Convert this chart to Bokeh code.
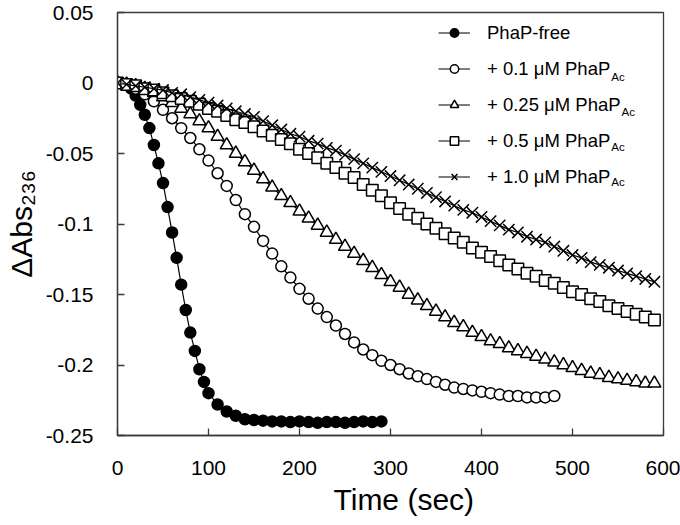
from bokeh.plotting import figure
from bokeh.models import Range1d, FixedTicker, Legend, LegendItem, Label, Title
from bokeh.embed import file_html
from bokeh.resources import INLINE

# ---------------- data ----------------
t_free = [0, 5, 10, 15, 20, 25, 30, 35, 40, 45, 50, 55, 60, 65, 70, 75, 80, 85, 90, 95, 100,
          110, 120, 130, 140, 150, 160, 170, 180, 190, 200, 210, 220, 230, 240, 250, 260, 270, 280, 290]
v_free = [0, -0.0005, -0.001, -0.004, -0.009, -0.0155, -0.0225, -0.032, -0.044, -0.057, -0.071,
          -0.088, -0.106, -0.124, -0.143, -0.161, -0.177, -0.190, -0.203, -0.212, -0.220,
          -0.228, -0.233, -0.236, -0.2385, -0.239, -0.2395, -0.240, -0.240, -0.2405, -0.240,
          -0.2405, -0.241, -0.2405, -0.2405, -0.241, -0.2405, -0.240, -0.2405, -0.240]

t_01 = list(range(0, 481, 10))
v_01 = [0, -0.001, -0.004, -0.008, -0.013, -0.019, -0.025, -0.032, -0.039, -0.047,
        -0.055, -0.064, -0.073, -0.083, -0.093, -0.102, -0.112, -0.121, -0.130, -0.138,
        -0.146, -0.153, -0.160, -0.166, -0.172, -0.178, -0.184, -0.189, -0.193, -0.197,
        -0.200, -0.203, -0.206, -0.208, -0.210, -0.212, -0.214, -0.216, -0.217, -0.218,
        -0.219, -0.220, -0.221, -0.222, -0.222, -0.223, -0.223, -0.223, -0.222]

t_long = list(range(0, 591, 10))
v_025 = [0, -0.001, -0.002, -0.004, -0.007, -0.010, -0.014, -0.018, -0.022, -0.027,
         -0.032, -0.038, -0.044, -0.050, -0.056, -0.062, -0.068, -0.074, -0.080, -0.085,
         -0.091, -0.096, -0.101, -0.106, -0.111, -0.116, -0.121, -0.126, -0.131, -0.136,
         -0.141, -0.145, -0.150, -0.154, -0.158, -0.162, -0.166, -0.170, -0.173, -0.177,
         -0.180, -0.183, -0.185, -0.188, -0.190, -0.192, -0.194, -0.196, -0.198, -0.200,
         -0.202, -0.204, -0.206, -0.207, -0.209, -0.210, -0.211, -0.212, -0.213, -0.213]
v_05 = [0, -0.001, -0.002, -0.004, -0.005, -0.007, -0.009, -0.011, -0.013, -0.015,
        -0.018, -0.020, -0.023, -0.026, -0.028, -0.031, -0.034, -0.037, -0.040, -0.043,
        -0.047, -0.050, -0.053, -0.057, -0.060, -0.064, -0.067, -0.072, -0.076, -0.080,
        -0.085, -0.089, -0.093, -0.096, -0.100, -0.103, -0.107, -0.110, -0.113, -0.117,
        -0.120, -0.123, -0.126, -0.129, -0.132, -0.135, -0.137, -0.140, -0.142, -0.145,
        -0.148, -0.150, -0.153, -0.155, -0.158, -0.160, -0.162, -0.164, -0.166, -0.168]
v_10 = [0, -0.001, -0.002, -0.003, -0.004, -0.005, -0.007, -0.008, -0.010, -0.012,
        -0.014, -0.016, -0.018, -0.020, -0.022, -0.024, -0.027, -0.030, -0.033, -0.036,
        -0.038, -0.041, -0.043, -0.046, -0.048, -0.051, -0.054, -0.057, -0.060, -0.063,
        -0.066, -0.069, -0.072, -0.075, -0.078, -0.081, -0.084, -0.087, -0.090, -0.092,
        -0.095, -0.098, -0.101, -0.104, -0.106, -0.109, -0.111, -0.113, -0.116, -0.119,
        -0.122, -0.124, -0.127, -0.129, -0.131, -0.133, -0.135, -0.137, -0.139, -0.141]

legend_labels = ["PhaP-free", "+ 0.1 \u03bcM PhaP", "+ 0.25 \u03bcM PhaP",
                 "+ 0.5 \u03bcM PhaP", "+ 1.0 \u03bcM PhaP"]
legend_subs = ["", "Ac", "Ac", "Ac", "Ac"]

x_ticks = [0, 100, 200, 300, 400, 500, 600]
y_ticks = [-0.25, -0.2, -0.15, -0.1, -0.05, 0, 0.05]
y_tick_labels = ["-0.25", "-0.2", "-0.15", "-0.1", "-0.05", "0", "0.05"]
x_title = "Time (sec)"
y_title = "\u0394Abs\u2082\u2083\u2086"

# ---------------- figure ----------------
W, H = 680, 525
BL, BR, BT, BB = 117, 17, 12, 90
FW, FH = W - BL - BR, H - BT - BB
AXC = "#3a3a3a"
FONT = "Liberation Sans"

p = figure(width=W, height=H, output_backend="svg", toolbar_location=None,
           x_range=Range1d(0, 600), y_range=Range1d(-0.25, 0.05),
           min_border_left=BL, min_border_right=BR, min_border_top=BT, min_border_bottom=BB)
p.xgrid.visible = False
p.ygrid.visible = False
p.outline_line_color = AXC
p.outline_line_width = 1.3
p.background_fill_color = "white"
p.border_fill_color = "white"

for ax in (p.xaxis[0], p.yaxis[0]):
    ax.axis_line_color = AXC
    ax.axis_line_width = 1.3
    ax.major_tick_line_color = AXC
    ax.major_tick_line_width = 1.3
    ax.major_tick_in = 7
    ax.major_tick_out = 0
    ax.minor_tick_line_color = None
    ax.major_label_text_font = FONT
    ax.major_label_text_font_size = "21px"
    ax.major_label_text_color = "black"

p.xaxis[0].ticker = FixedTicker(ticks=x_ticks)
p.xaxis[0].major_label_standoff = 25
p.yaxis[0].ticker = FixedTicker(ticks=y_ticks)
p.yaxis[0].major_label_overrides = dict(zip(y_ticks, y_tick_labels))
p.yaxis[0].major_label_standoff = 24
p.yaxis[0].axis_label = y_title
p.yaxis[0].axis_label_text_font = FONT
p.yaxis[0].axis_label_text_font_size = "30px"
p.yaxis[0].axis_label_text_font_style = "normal"
p.yaxis[0].axis_label_text_color = "black"
p.yaxis[0].axis_label_standoff = 5

# x title as a Title in the below panel so it can sit right of centre like the reference
p.add_layout(Title(text=x_title, align="left", offset=216, standoff=6,
                   text_font=FONT, text_font_size="30px", text_font_style="normal",
                   text_color="black"), "below")

# ---------------- series ----------------
LW = 1.2
renderers = []
specs = [
    (t_free, v_free, "circle", 11, "black"),
    (t_01, v_01, "circle", 11, "white"),
    (t_long, v_025, "triangle", 13, "white"),
    (t_long, v_05, "square", 11.5, "white"),
    (t_long, v_10, "x", 16, "white"),
]
for tx, vy, mk, sz, fc in specs:
    ln = p.line(tx, vy, line_color="black", line_width=LW)
    sc = p.scatter(tx, vy, marker=mk, size=sz, fill_color=fc, line_color="black", line_width=1.5)
    renderers.append([ln, sc])

# ---------------- legend ----------------
LEG_X = 321            # from frame left
LEG_TOP_CANVAS = 26.5  # legend top, canvas px
ITEM_H, SPACING = 21, 14
GLYPH_W, STANDOFF = 32, 17
LEG_FS = 18.5
n = len(legend_labels)
leg_h = n * ITEM_H + (n - 1) * SPACING
leg_top = FH - (LEG_TOP_CANVAS - BT)   # upward from frame bottom
LEG_BOTTOM = leg_top - leg_h

legend = Legend(items=[LegendItem(label=lab, renderers=r) for lab, r in zip(legend_labels, renderers)],
                location=(LEG_X, LEG_BOTTOM), padding=0, margin=0, spacing=SPACING,
                glyph_width=GLYPH_W, glyph_height=ITEM_H, label_height=ITEM_H,
                label_standoff=STANDOFF, label_text_font=FONT,
                label_text_font_size=f"{LEG_FS}px", label_text_color="black",
                border_line_color=None, background_fill_alpha=0)
p.add_layout(legend)

# Arial / Liberation Sans advance widths (em) for subscript placement
ADV = {" ": 0.278, "+": 0.584, ".": 0.278, "\u03bc": 0.576, "M": 0.833, "P": 0.667,
       "h": 0.556, "a": 0.556, "-": 0.333, "f": 0.278, "r": 0.333, "e": 0.556}
def text_w(s, fs):
    return sum(ADV.get(c, 0.556) for c in s) * fs

for i, (lab, sub) in enumerate(zip(legend_labels, legend_subs)):
    if not sub:
        continue
    cy = leg_top - ITEM_H / 2 - i * (ITEM_H + SPACING)
    sx = LEG_X + GLYPH_W + STANDOFF + text_w(lab, LEG_FS) + 0.5
    p.add_layout(Label(x=sx, y=cy - 4.5, x_units="screen", y_units="screen", text=sub,
                       text_font=FONT, text_font_size="11.5px",
                       text_baseline="middle", text_align="left", text_color="black"))

open("out.html", "w").write(file_html(p, INLINE))
